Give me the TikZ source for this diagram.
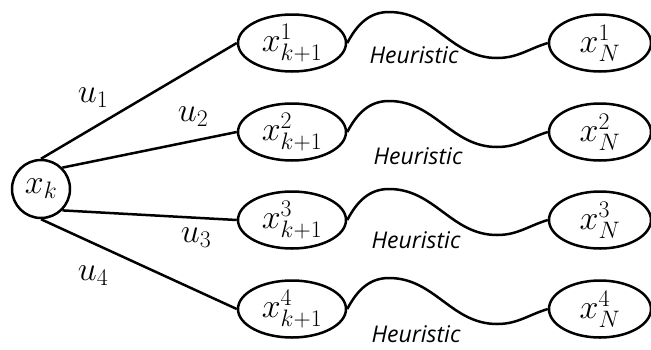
\RequirePackage{fix-cm}
\documentclass[tikz,border=0pt]{standalone}
\usepackage{fontspec}
\newfontfamily\heurfont{Open Sans}
\usetikzlibrary{shapes.geometric}
\begin{document}
\begin{tikzpicture}[x=1pt,y=-1pt,line width=2.5pt,
  mathfont/.style={font=\fontsize{34}{38}\selectfont},
  state/.style={draw,circle,inner sep=0pt,minimum size=58pt,mathfont},
  mid/.style={draw,ellipse,inner sep=0pt,minimum width=108pt,minimum height=57pt,mathfont},
  fin/.style={draw,ellipse,inner sep=0pt,minimum width=102pt,minimum height=57pt,mathfont},
  ulab/.style={inner sep=0pt,mathfont},
  heur/.style={inner sep=0pt,font=\heurfont\itshape\fontsize{23}{27}\selectfont}]
\useasboundingbox (0,0) rectangle (651,349);
\node[state] (xk) at (41,189) {$x_k$};
\foreach \i/\y in {1/43,2/132,3/220,4/309}{
  \node[mid] (a\i) at (292,\y) {$x_{k+1}^{\i}$};
  \node[fin] (b\i) at (600,\y) {$x_{N}^{\i}$};
  \coordinate (p\i) at (389,\y-31);
  \coordinate (t\i) at (497,\y+15);
  \draw (a\i.east) to[out=62,in=180] (p\i) to[out=0,in=180] (t\i) to[out=0,in=197] (b\i.west);
}
\draw (xk.north) -- (a1.west);
\draw (xk.45) -- (a2.west);
\draw (xk.-45) -- (a3.west);
\draw (xk.south) -- (a4.west);
\node[ulab] (u1) at (93,98) {$u_1$};
\node[ulab] (u2) at (193,117) {$u_2$};
\node[ulab] (u3) at (196,238) {$u_3$};
\node[ulab] (u4) at (93,276) {$u_4$};
\node[heur] (h1) at (414,55) {Heuristic};
\node[heur] (h2) at (418,156) {Heuristic};
\node[heur] (h3) at (416,240) {Heuristic};
\node[heur] (h4) at (416,334) {Heuristic};
\end{tikzpicture}
\end{document}
